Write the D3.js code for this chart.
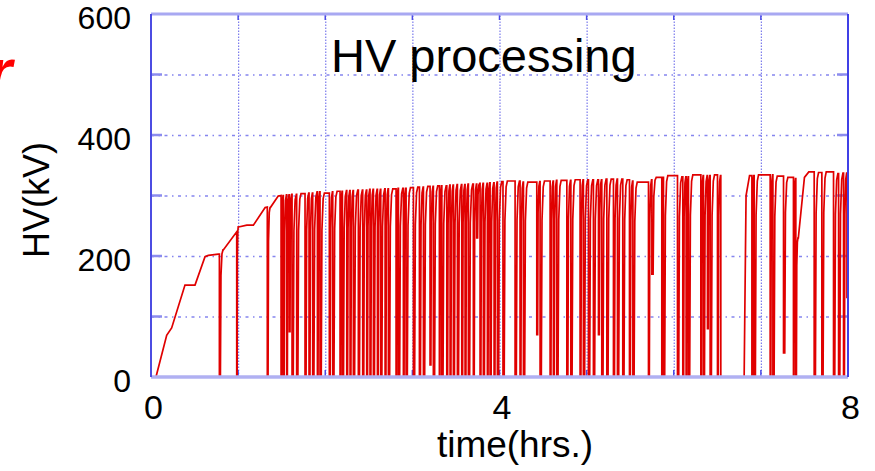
<!DOCTYPE html>
<html>
<head>
<meta charset="utf-8">
<script src="https://cdnjs.cloudflare.com/ajax/libs/d3/7.8.5/d3.min.js"></script>
<style>
body { margin: 0; background: #fff; }
svg { display: block; font-family: "Liberation Sans", Arial, sans-serif; }
</style>
</head>
<body>
<script>
// initial ramp before the first trip
var rampT  = [0.057, 0.18, 0.237, 0.39, 0.505, 0.62, 0.658, 0.773];
var rampKV = [0, 69, 81, 152, 152, 199, 201, 203];

// trips (breakdowns): time, lowest kV reached, kV just before the trip
var tripT = [0.785, 0.984, 1.335, 1.493, 1.519, 1.558, 1.588, 1.619, 1.672, 1.768,
  1.814, 1.856, 1.910, 1.940, 2.047, 2.086, 2.170, 2.197, 2.247, 2.285,
  2.323, 2.380, 2.430, 2.476, 2.514, 2.553, 2.599, 2.637, 2.687, 2.725,
  2.813, 2.840, 2.897, 2.928, 3.012, 3.081, 3.127, 3.203, 3.241, 3.310,
  3.338, 3.395, 3.433, 3.471, 3.517, 3.567, 3.605, 3.643, 3.700, 3.739,
  3.777, 3.815, 3.861, 3.892, 3.938, 3.976, 4.040, 4.179, 4.236, 4.275,
  4.428, 4.466, 4.581, 4.619, 4.658, 4.773, 4.819, 4.925, 4.963, 5.021,
  5.078, 5.136, 5.174, 5.232, 5.308, 5.354, 5.415, 5.492, 5.531, 5.710,
  5.749, 5.863, 5.882, 6.043, 6.104, 6.142, 6.169, 6.311, 6.341, 6.387,
  6.418, 6.502, 6.540, 6.897, 6.923, 7.107, 7.138, 7.260, 7.374, 7.401,
  7.612, 7.700, 7.834, 7.892, 7.949, 7.988];
var tripMin = [0, 0, 0, 0, 0, 0, 75, 0, 0, 0,
  0, 0, 0, 0, 0, 0, 0, 0, 0, 0,
  0, 0, 0, 0, 0, 0, 0, 0, 0, 0,
  0, 0, 0, 0, 0, 0, 0, 20, 0, 0,
  0, 0, 0, 0, 0, 0, 0, 0, 0, 230,
  0, 0, 0, 0, 0, 0, 0, 0, 0, 0,
  70, 0, 0, 0, 0, 0, 0, 0, 0, 0,
  0, 70, 0, 0, 0, 0, 0, 0, 0, 0,
  170, 0, 0, 0, 0, 0, 0, 0, 0, 80,
  0, 0, 0, 0, 0, 0, 0, 40, 0, 0,
  0, 0, 0, 0, 0, 130];
var tripPeak = [203, 240, 281, 300, 300, 301, 301, 302, 302, 303,
  304, 304, 306, 306, 304, 306, 307, 307, 308, 308,
  308, 309, 309, 309, 310, 310, 310, 310, 311, 311,
  311, 312, 312, 312, 313, 314, 314, 315, 315, 316,
  316, 316, 317, 317, 318, 318, 318, 319, 319, 319,
  320, 320, 320, 321, 321, 322, 323, 324, 324, 322,
  322, 323, 324, 324, 325, 325, 325, 326, 326, 326,
  326, 326, 326, 327, 327, 327, 327, 326, 324, 322,
  326, 330, 330, 333, 331, 331, 331, 334, 333, 333,
  333, 334, 333, 333, 333, 334, 334, 332, 330, 328,
  339, 338, 339, 336, 337, 337];

// slower ramps between trips
var midT  = [0.83, 1.005, 1.10, 1.175, 1.31, 1.37, 1.46, 6.808, 6.815, 6.83, 6.87, 7.43, 7.50, 7.55];
var midKV = [210, 248, 251, 251, 280, 280, 299, 0, 97, 300, 333, 230, 330, 339];

var xTicks = [0, 4, 8];
var yTicks = [0, 200, 400, 600];
var xGrid = [1, 2, 3, 4, 5, 6, 7];
var yGrid = [100, 200, 300, 400, 500];

var w = 875, h = 471;
var pLeft = 151, pRight = 848, pTop = 14, pBottom = 377;

var x = d3.scaleLinear().domain([0, 8]).range([pLeft, pRight]);
var y = d3.scaleLinear().domain([0, 600]).range([pBottom, pTop]);

var svg = d3.select("body").append("svg")
  .attr("width", w)
  .attr("height", h);

// grid
svg.append("g")
  .attr("transform", "translate(" + pLeft + ",0)")
  .call(d3.axisLeft(y).tickValues(yGrid).tickSize(-(pRight - pLeft)).tickFormat(""))
  .call(function(g) { g.select(".domain").remove(); })
  .selectAll("line")
    .attr("stroke", "#8585ee")
    .attr("stroke-width", 1.4)
    .attr("stroke-dasharray", "3,4.5,1.5,4.5");

svg.append("g")
  .attr("transform", "translate(0," + pBottom + ")")
  .call(d3.axisBottom(x).tickValues(xGrid).tickSize(-(pBottom - pTop)).tickFormat(""))
  .call(function(g) { g.select(".domain").remove(); })
  .selectAll("line")
    .attr("stroke", "#7a7aec")
    .attr("stroke-width", 1.2)
    .attr("stroke-dasharray", "1.5,1.5");

// little tick marks inside the frame
var tk = svg.append("g").attr("stroke", "#8c8cee").attr("stroke-width", 2.5);
yGrid.forEach(function(v) {
  tk.append("line").attr("x1", pLeft).attr("x2", pLeft + 11).attr("y1", y(v)).attr("y2", y(v));
  tk.append("line").attr("x1", pRight - 11).attr("x2", pRight).attr("y1", y(v)).attr("y2", y(v));
});
xGrid.forEach(function(v) {
  tk.append("line").attr("x1", x(v)).attr("x2", x(v)).attr("y1", pBottom).attr("y2", pBottom - 7).attr("stroke", "#4a4ae6").attr("stroke-width", 1.5);
  tk.append("line").attr("x1", x(v)).attr("x2", x(v)).attr("y1", pTop).attr("y2", pTop + 6).attr("stroke", "#4a4ae6").attr("stroke-width", 1.5);
});

// build the HV trace
var pts = [];
rampT.forEach(function(t, i) { pts.push([t, rampKV[i]]); });
tripT.forEach(function(t, i) {
  var lo = tripMin[i];
  pts.push([t, tripPeak[i]]);
  pts.push([t, lo]);
  if (i === tripT.length - 1) return;
  var nextT = tripT[i + 1];
  var mids = [];
  midT.forEach(function(mt, j) { if (mt > t && mt < nextT) mids.push([mt, midKV[j]]); });
  var topKV = mids.length ? mids[0][1] : tripPeak[i + 1];
  var endT = mids.length ? mids[0][0] : nextT;
  var k = Math.min(1, (endT - t - 0.004) / 0.05);
  var d = topKV - lo;
  pts.push([t + 0.014 * k, lo]);
  pts.push([t + 0.022 * k, lo + 0.8 * d]);
  pts.push([t + 0.036 * k, lo + 0.97 * d]);
  pts.push([t + 0.05 * k, topKV]);
  mids.forEach(function(m) { pts.push(m); });
});

var line = d3.line()
  .x(function(d) { return x(d[0]); })
  .y(function(d) { return y(d[1]); });

svg.append("path")
  .datum(pts)
  .attr("fill", "none")
  .attr("stroke", "#e00000")
  .attr("stroke-width", 1.7)
  .attr("d", line);

// frame
svg.append("line").attr("x1", pLeft).attr("x2", pRight).attr("y1", pTop).attr("y2", pTop)
  .attr("stroke", "#a8a8f2").attr("stroke-width", 3);
svg.append("line").attr("x1", pLeft).attr("x2", pRight).attr("y1", pBottom).attr("y2", pBottom)
  .attr("stroke", "#b0b0f2").attr("stroke-width", 3.5);
svg.append("line").attr("x1", pLeft).attr("x2", pLeft).attr("y1", pTop).attr("y2", pBottom)
  .attr("stroke", "#4c4ce2").attr("stroke-width", 2);
svg.append("line").attr("x1", pRight).attr("x2", pRight).attr("y1", pTop).attr("y2", pBottom)
  .attr("stroke", "#4040e6").attr("stroke-width", 2);

// tick labels
svg.append("g")
  .attr("transform", "translate(0," + pBottom + ")")
  .call(d3.axisBottom(x).tickValues(xTicks).tickSize(0).tickPadding(18).tickFormat(d3.format("d")))
  .call(function(g) { g.select(".domain").remove(); })
  .selectAll("text")
    .attr("font-family", "Liberation Sans, Arial, sans-serif")
    .attr("font-size", 34)
    .attr("fill", "#000")
    .attr("dx", 2);

svg.append("g")
  .attr("transform", "translate(" + pLeft + ",0)")
  .call(d3.axisLeft(y).tickValues(yTicks).tickSize(0).tickPadding(20).tickFormat(d3.format("d")))
  .call(function(g) { g.select(".domain").remove(); })
  .selectAll("text")
    .attr("font-family", "Liberation Sans, Arial, sans-serif")
    .attr("font-size", 32)
    .attr("fill", "#000")
    .attr("dy", "0.45em");

// titles
svg.append("text")
  .attr("x", 331).attr("y", 72)
  .attr("font-size", 47)
  .text("HV processing");

svg.append("text")
  .attr("x", 515).attr("y", 457)
  .attr("text-anchor", "middle")
  .attr("font-size", 37)
  .text("time(hrs.)");

svg.append("text")
  .attr("transform", "translate(49,200)rotate(-90)")
  .attr("text-anchor", "middle")
  .attr("font-size", 36)
  .text("HV(kV)");

// red letter cut off at the page edge, as in the source slide
svg.append("text")
  .attr("x", -12).attr("y", 92)
  .attr("font-size", 62)
  .attr("font-style", "italic")
  .attr("font-weight", "bold")
  .attr("fill", "#ff0000")
  .text("r");
</script>
</body>
</html>
